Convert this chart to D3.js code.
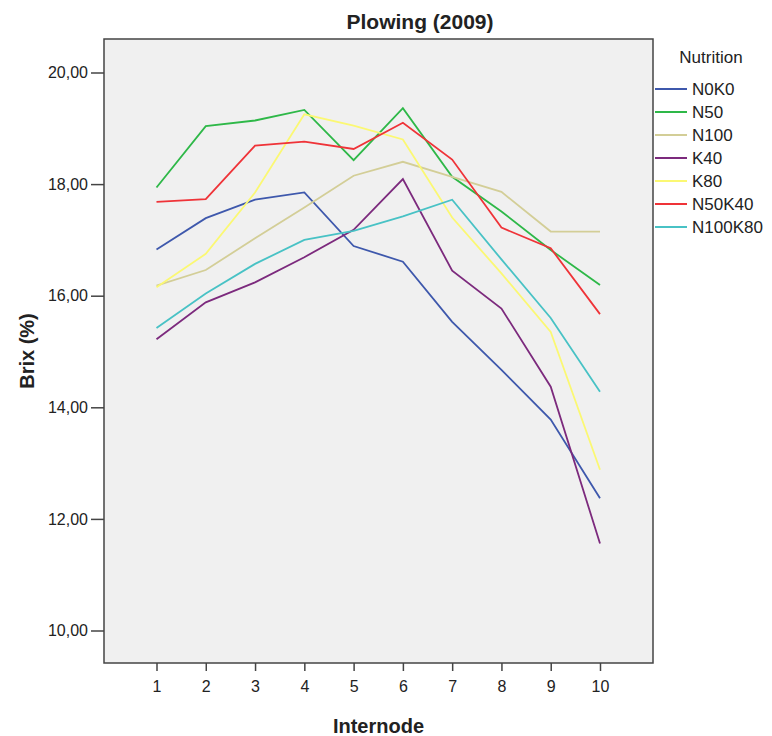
<!DOCTYPE html>
<meta charset="utf-8">
<style>
  body { margin: 0; background: #fff; }
  text { font-family: "Liberation Sans", Arial, sans-serif; fill: #222; }
</style>

<script src="https://d3js.org/d3.v7.min.js"></script>

<div id="my_dataviz"></div>

<script>

// data
var internodes = [1, 2, 3, 4, 5, 6, 7, 8, 9, 10];
var groups = ["N0K0", "N50", "N100", "K40", "K80", "N50K40", "N100K80"];
var colors = ["#3E58AC", "#2EB848", "#D3CE97", "#7C2A7D", "#FBF873", "#EF3338", "#48C2C5"];
var yTicks = [10, 12, 14, 16, 18, 20];

var n0k0    = [16.83, 17.39, 17.72, 17.85, 16.89, 16.61, 15.53, 14.67, 13.78, 12.37];
var n50     = [17.94, 19.04, 19.14, 19.33, 18.43, 19.36, 18.13, 17.51, 16.82, 16.19];
var n100    = [16.18, 16.46, 17.03, 17.58, 18.15, 18.40, 18.13, 17.86, 17.15, 17.15];
var k40     = [15.22, 15.88, 16.24, 16.69, 17.18, 18.09, 16.45, 15.77, 14.37, 11.56];
var k80     = [16.15, 16.75, 17.85, 19.25, 19.05, 18.80, 17.40, 16.40, 15.35, 12.88];
var n50k40  = [17.68, 17.73, 18.69, 18.76, 18.63, 19.10, 18.44, 17.22, 16.85, 15.67];
var n100k80 = [15.42, 16.04, 16.57, 17.00, 17.16, 17.42, 17.72, 16.65, 15.60, 14.28];

var series = [n0k0, n50, n100, k40, k80, n50k40, n100k80];

// set the dimensions and margins of the graph
var margin = {top: 39, right: 119, bottom: 73, left: 104},
  width = 772 - margin.left - margin.right,
  height = 736 - margin.top - margin.bottom;

var svg = d3.select("#my_dataviz")
  .append("svg")
    .attr("width", 772)
    .attr("height", 736);

var g = svg.append("g")
    .attr("transform", "translate(" + margin.left + "," + margin.top + ")");

var xScale = d3.scaleLinear().domain([1, 10]).range([52.5, width - 53]);
var yScale = d3.scaleLinear().domain([10, 20]).range([591.5, 33.5]);

// plot background + frame
g.append("rect")
    .attr("width", width)
    .attr("height", height)
    .style("fill", "#F0F0F0")
    .style("stroke", "#444")
    .style("stroke-width", 1.5);

// axes
var fmt = function(d) { return d3.format(".2f")(d).replace(".", ","); };

var yAxis = g.append("g")
    .call(d3.axisLeft(yScale).tickValues(yTicks).tickFormat(fmt).tickSize(13).tickSizeOuter(0));
yAxis.select(".domain").remove();
yAxis.selectAll("line").style("stroke", "#444").style("stroke-width", 1.5);
yAxis.selectAll("text").style("font-size", "16px").attr("x", -16);

var xAxis = g.append("g")
    .attr("transform", "translate(0," + height + ")")
    .call(d3.axisBottom(xScale).tickValues(internodes).tickFormat(d3.format("d")).tickSize(8).tickSizeOuter(0));
xAxis.select(".domain").remove();
xAxis.selectAll("line").style("stroke", "#444").style("stroke-width", 1.5);
xAxis.selectAll("text").style("font-size", "16px").attr("y", 18);

// lines
var line = d3.line()
    .x(function(d, i) { return xScale(internodes[i]); })
    .y(function(d) { return yScale(d); });

series.forEach(function(s, i) {
  g.append("path")
      .datum(s)
      .attr("d", line)
      .style("fill", "none")
      .style("stroke", colors[i])
      .style("stroke-width", 1.8);
});

// titles
svg.append("text")
    .attr("x", 420)
    .attr("y", 29)
    .attr("text-anchor", "middle")
    .style("font-weight", "bold")
    .style("font-size", "21px")
    .text("Plowing (2009)");

svg.append("text")
    .attr("transform", "translate(" + (margin.left + width / 2) + ",733)")
    .attr("text-anchor", "middle")
    .style("font-weight", "bold")
    .style("font-size", "20px")
    .text("Internode");

svg.append("text")
    .attr("transform", "translate(34," + (margin.top + height / 2) + ") rotate(-90)")
    .attr("text-anchor", "middle")
    .style("font-weight", "bold")
    .style("font-size", "20px")
    .text("Brix (%)");

// legend
var legend = svg.append("g");
legend.append("text")
    .attr("x", 711)
    .attr("y", 57)
    .attr("dy", "0.35em")
    .attr("text-anchor", "middle")
    .style("font-size", "17px")
    .text("Nutrition");

groups.forEach(function(name, i) {
  var y = 89 + 23 * i;
  legend.append("line")
      .attr("x1", 655).attr("x2", 687)
      .attr("y1", y).attr("y2", y)
      .style("stroke", colors[i])
      .style("stroke-width", 2);
  legend.append("text")
      .attr("x", 692)
      .attr("y", y)
      .attr("dy", "0.35em")
      .style("font-size", "17px")
      .text(name);
});

</script>
